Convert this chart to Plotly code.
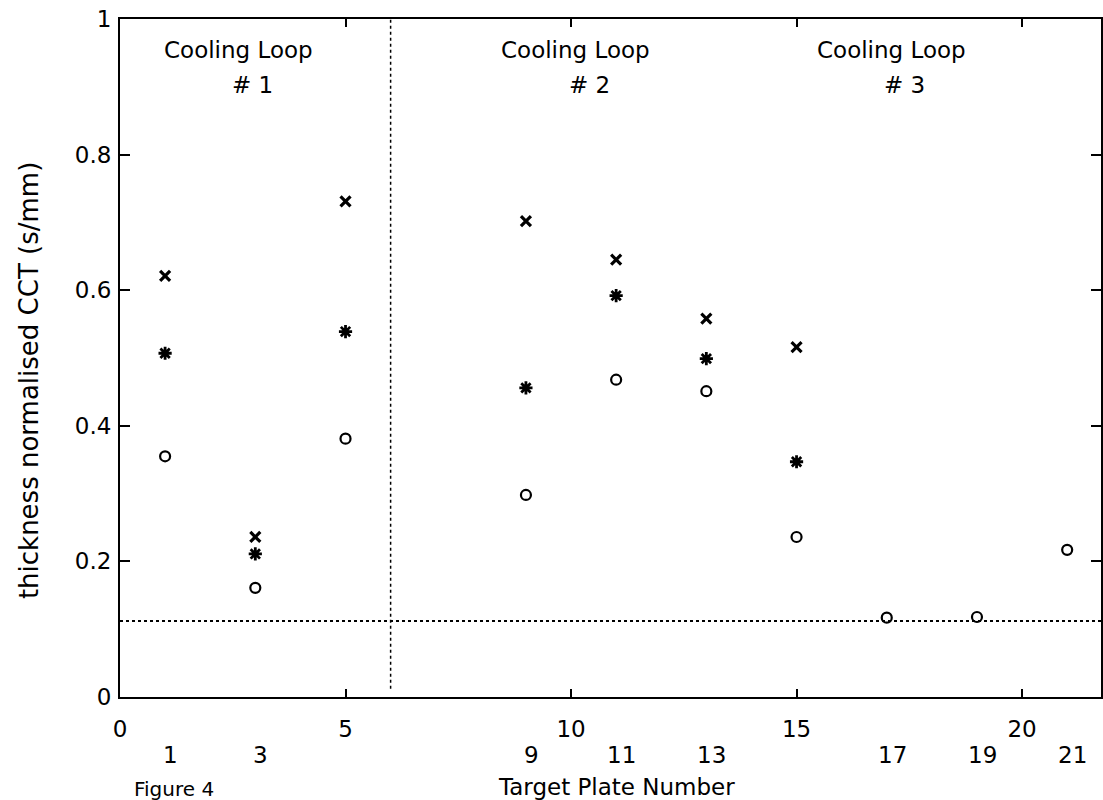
import plotly.graph_objects as go

# Data
plates = [1, 3, 5, 9, 11, 13, 15]
cross_vals = [0.621, 0.236, 0.731, 0.702, 0.645, 0.558, 0.516]
star_vals = [0.507, 0.211, 0.539, 0.456, 0.592, 0.499, 0.347]
circle_plates = [1, 3, 5, 9, 11, 13, 15, 17, 19, 21]
circle_vals = [0.355, 0.161, 0.381, 0.298, 0.468, 0.451, 0.236, 0.117, 0.118, 0.217]

plate_labels = [1, 3, 9, 11, 13, 17, 19, 21]
x_ticks = [0, 5, 10, 15, 20]
y_ticks = [0, 0.2, 0.4, 0.6, 0.8, 1]
y_tick_text = ["0", "0.2", "0.4", "0.6", "0.8", "1"]

threshold = 0.112
loop_divider_x = 6
x_range = [0, 21.75]

loops = ["# 1", "# 2", "# 3"]
loop_x = [2.63, 10.1, 17.1]

FONT = "DejaVu Sans"
TICK_SIZE = 23

fig = go.Figure()

# horizontal dotted threshold line
fig.add_trace(go.Scatter(x=x_range, y=[threshold, threshold], mode="lines",
                         line=dict(color="black", width=2, dash="dot"),
                         showlegend=False, hoverinfo="skip"))
# vertical dotted loop divider
fig.add_trace(go.Scatter(x=[loop_divider_x, loop_divider_x], y=[0.012, 1], mode="lines",
                         line=dict(color="black", width=1.5, dash="dot"),
                         showlegend=False, hoverinfo="skip"))

fig.add_trace(go.Scatter(x=plates, y=cross_vals, mode="markers",
                         marker=dict(symbol="x-thin", size=10, color="black",
                                     line=dict(color="black", width=3.2)),
                         showlegend=False))
fig.add_trace(go.Scatter(x=plates, y=star_vals, mode="markers",
                         marker=dict(symbol="asterisk", size=11, color="black",
                                     line=dict(color="black", width=2.8)),
                         showlegend=False))
fig.add_trace(go.Scatter(x=circle_plates, y=circle_vals, mode="markers",
                         marker=dict(symbol="circle-open", size=10, color="black",
                                     line=dict(color="black", width=2.2)),
                         showlegend=False))

annotations = []
for lx in loop_x:
    annotations.append(dict(x=lx, y=1, xref="x", yref="paper", text="Cooling Loop",
                            showarrow=False, yshift=-31, xanchor="center", yanchor="middle",
                            font=dict(family=FONT, size=23, color="black")))
for name, lx in zip(loops, loop_x):
    annotations.append(dict(x=lx + 0.3, y=1, xref="x", yref="paper", text=name,
                            showarrow=False, yshift=-66, xanchor="center", yanchor="middle",
                            font=dict(family=FONT, size=23, color="black")))

for p in plate_labels:
    annotations.append(dict(x=p + 0.12, y=0, xref="x", yref="paper", text=str(p),
                            showarrow=False, yshift=-58, xanchor="center", yanchor="middle",
                            font=dict(family=FONT, size=TICK_SIZE, color="black")))

annotations.append(dict(x=0.506, y=0, xref="paper", yref="paper", text="Target Plate Number",
                        showarrow=False, yshift=-90, xanchor="center", yanchor="middle",
                        font=dict(family=FONT, size=23, color="black")))
annotations.append(dict(x=0.055, y=0, xref="paper", yref="paper", text="Figure 4",
                        showarrow=False, yshift=-78, xanchor="center", yanchor="top",
                        font=dict(family=FONT, size=20, color="black")))
annotations.append(dict(x=-0.092, y=0.467, xref="paper", yref="paper",
                        text="thickness normalised CCT (s/mm)", textangle=-90,
                        showarrow=False, xanchor="center", yanchor="middle",
                        font=dict(family=FONT, size=26, color="black")))

fig.update_layout(
    width=1103, height=800,
    margin=dict(l=120, r=0, t=19, b=103),
    paper_bgcolor="white", plot_bgcolor="white",
    font=dict(family=FONT, size=TICK_SIZE, color="black"),
    annotations=annotations,
    xaxis=dict(range=x_range, tickvals=x_ticks, ticktext=[str(v) for v in x_ticks],
               ticks="inside", ticklen=8, tickwidth=1.5, tickcolor="black",
               showline=True, linecolor="black", linewidth=2, mirror="ticks",
               showgrid=False, zeroline=False, ticklabelstandoff=10,
               tickfont=dict(family=FONT, size=TICK_SIZE, color="black")),
    yaxis=dict(range=[0, 1], tickvals=y_ticks, ticktext=y_tick_text,
               ticks="inside", ticklen=10, tickwidth=1.5, tickcolor="black",
               showline=True, linecolor="black", linewidth=2, mirror="ticks",
               showgrid=False, zeroline=False, ticklabelstandoff=2,
               tickfont=dict(family=FONT, size=TICK_SIZE, color="black")),
)

fig.write_html("out.html", config={"displayModeBar": False},
               post_script="document.body.style.margin='0';")
